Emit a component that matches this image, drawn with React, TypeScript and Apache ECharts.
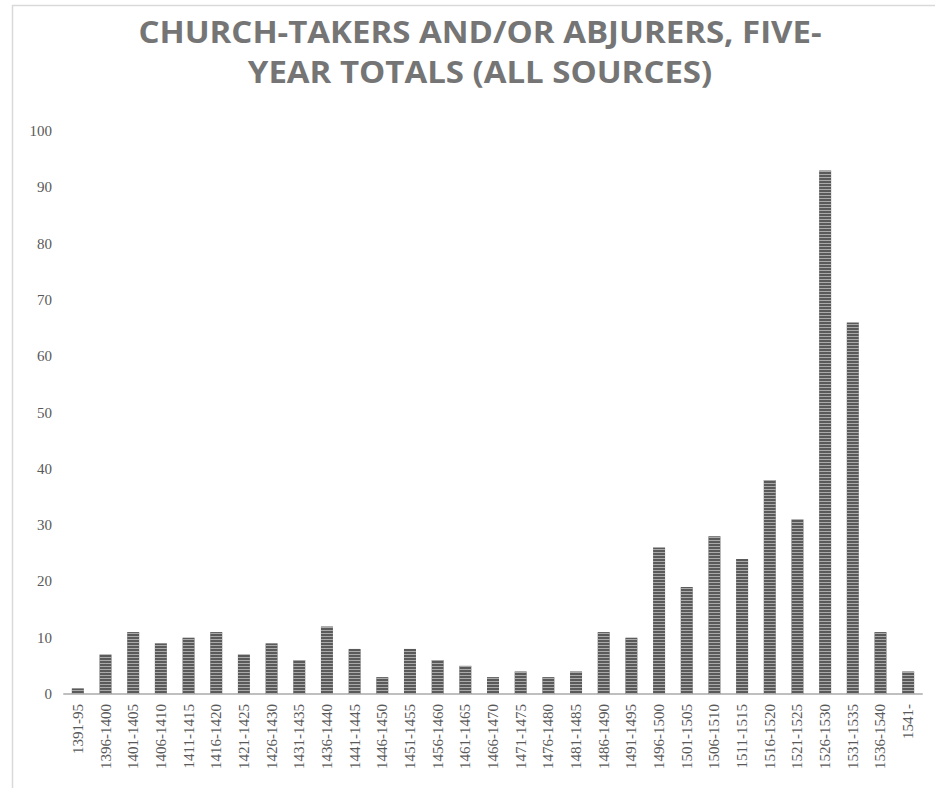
import React, { useEffect, useRef } from "react";
import * as echarts from "echarts";

const categories = [
  "1391-95", "1396-1400", "1401-1405", "1406-1410", "1411-1415", "1416-1420",
  "1421-1425", "1426-1430", "1431-1435", "1436-1440", "1441-1445", "1446-1450",
  "1451-1455", "1456-1460", "1461-1465", "1466-1470", "1471-1475", "1476-1480",
  "1481-1485", "1486-1490", "1491-1495", "1496-1500", "1501-1505", "1506-1510",
  "1511-1515", "1516-1520", "1521-1525", "1526-1530", "1531-1535", "1536-1540",
  "1541-",
];

const totals = [
  1, 7, 11, 9, 10, 11, 7, 9, 6, 12, 8, 3, 8, 6, 5, 3, 4, 3, 4, 11, 10, 26, 19,
  28, 24, 38, 31, 93, 66, 11, 4,
];

const titleLines = ["CHURCH-TAKERS AND/OR ABJURERS, FIVE-", "YEAR TOTALS (ALL SOURCES)"];

export default function App() {
  const ref = useRef<HTMLDivElement>(null);
  useEffect(() => {
    document.body.style.margin = "0";
    const chart = echarts.init(ref.current!, undefined, { renderer: "svg" });
    const titleStyle = {
      fill: "#757575",
      font: "bold 30px 'Open Sans'",
      textAlign: "center",
      textVerticalAlign: "middle",
    };
    chart.setOption({
      animation: false,
      backgroundColor: "#ffffff",
      graphic: [
        {
          type: "polyline",
          shape: { points: [[12.5, 788], [12.5, 5.5], [935, 5.5]] },
          style: { stroke: "#d9d9d9", lineWidth: 1.5, fill: "none" },
          silent: true,
        },
        {
          type: "text",
          x: 480,
          y: 31,
          scaleX: 1.1,
          style: { ...titleStyle, text: titleLines[0] },
        },
        {
          type: "text",
          x: 480,
          y: 71,
          scaleX: 1.1,
          style: { ...titleStyle, text: titleLines[1] },
        },
      ],
      grid: { left: 64, right: 13, top: 131, bottom: 94, containLabel: false },
      xAxis: {
        type: "category",
        data: categories,
        axisLine: { lineStyle: { color: "#bfbfbf", width: 2 } },
        axisTick: { show: false },
        axisLabel: {
          rotate: 90,
          interval: 0,
          margin: 10,
          color: "#595959",
          fontFamily: "'Liberation Serif'",
          fontSize: 15,
        },
      },
      yAxis: {
        type: "value",
        min: 0,
        max: 100,
        interval: 10,
        splitLine: { show: false },
        axisLine: { show: false },
        axisTick: { show: false },
        axisLabel: {
          margin: 12,
          color: "#595959",
          fontFamily: "'Liberation Serif'",
          fontSize: 15,
        },
      },
      series: [
        {
          type: "bar",
          data: totals,
          barWidth: 12,
          itemStyle: {
            color: "#5a5a5a",
            decal: {
              symbol: "rect",
              symbolSize: 1,
              dashArrayX: [[1, 0]],
              dashArrayY: [1, 2],
              color: "rgba(190,190,190,0.8)",
            },
          },
        },
      ],
    });
    return () => chart.dispose();
  }, []);
  return <div ref={ref} style={{ width: 935, height: 788 }} />;
}
